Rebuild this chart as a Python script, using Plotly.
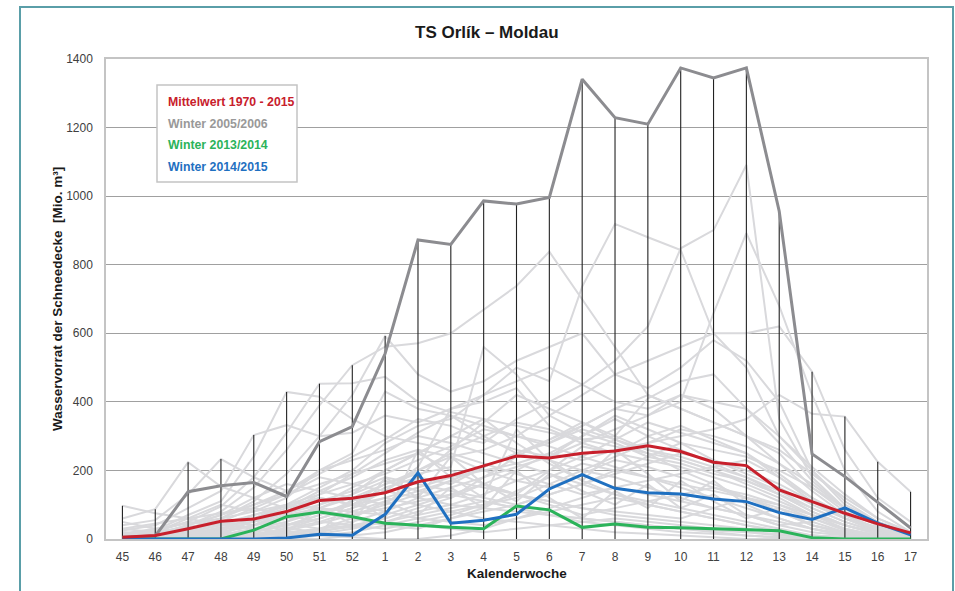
import plotly.graph_objects as go

weeks = ['45', '46', '47', '48', '49', '50', '51', '52', '1', '2', '3', '4', '5',
         '6', '7', '8', '9', '10', '11', '12', '13', '14', '15', '16', '17']

mean_1970_2015 = [5, 10, 30, 52, 58, 80, 112, 119, 135, 167, 185, 214, 242, 236, 250,
                  257, 272, 255, 224, 214, 143, 109, 75, 44, 18]
winter_2005_2006 = [5, 9, 138, 155, 165, 124, 284, 328, 541, 872, 859, 986, 977, 996,
                    1341, 1229, 1210, 1374, 1345, 1374, 956, 248, 182, 108, 32]
winter_2013_2014 = [0, 0, 0, 0, 26, 65, 79, 65, 46, 39, 34, 30, 96, 85, 34, 44, 34, 33,
                    30, 25, 24, 4, 0, 0, 0]
winter_2014_2015 = [0, 0, 0, 0, 0, 3, 14, 11, 72, 193, 46, 55, 72, 146, 188, 148, 135,
                    131, 117, 109, 77, 57, 91, 46, 12]

# highest value of any winter per week (top of the black vertical lines)
week_max = [97, 87, 224, 233, 303, 429, 453, 507, 592, 872, 859, 986, 977, 996, 1341,
            1229, 1210, 1374, 1345, 1374, 956, 488, 357, 225, 138]

# other winters 1970 - 2015 (light grey)
w01 = [97, 75, 60, 40, 50, 80, 120, 100, 150, 180, 160, 210, 250, 230, 200, 180, 150, 120, 90, 70, 40, 20, 10, 5, 0]
w02 = [60, 87, 224, 153, 120, 90, 140, 180, 230, 260, 240, 200, 170, 150, 190, 230, 210, 180, 150, 120, 80, 40, 20, 10, 0]
w03 = [40, 55, 130, 233, 180, 140, 190, 240, 290, 350, 330, 290, 260, 240, 300, 360, 320, 280, 230, 190, 150, 100, 60, 35, 15]
w04 = [25, 40, 90, 140, 303, 332, 300, 310, 360, 340, 380, 420, 460, 500, 450, 400, 380, 420, 380, 300, 220, 160, 90, 40, 20]
w05 = [15, 25, 70, 110, 240, 429, 415, 350, 300, 280, 260, 300, 340, 320, 280, 250, 300, 330, 290, 250, 180, 110, 60, 25, 8]
w06 = [10, 20, 50, 95, 180, 310, 453, 454, 473, 400, 370, 350, 330, 310, 290, 270, 250, 230, 200, 160, 120, 70, 40, 20, 5]
w07 = [0, 10, 40, 80, 150, 260, 390, 507, 561, 571, 600, 668, 738, 838, 700, 560, 420, 380, 340, 300, 250, 150, 80, 40, 12]
w08 = [0, 5, 30, 60, 110, 190, 300, 420, 592, 480, 430, 460, 520, 560, 600, 480, 440, 500, 580, 520, 400, 200, 100, 50, 15]
w09 = [0, 0, 10, 30, 60, 100, 150, 200, 280, 330, 350, 420, 500, 460, 736, 919, 880, 843, 600, 500, 300, 200, 110, 50, 20]
w10 = [0, 0, 5, 20, 40, 70, 90, 130, 200, 250, 300, 280, 350, 400, 450, 520, 620, 848, 901, 1091, 350, 180, 90, 40, 10]
w11 = [5, 10, 20, 40, 70, 100, 130, 160, 190, 230, 270, 320, 300, 280, 330, 380, 360, 400, 659, 892, 680, 420, 200, 80, 20]
w12 = [0, 0, 0, 10, 30, 60, 90, 120, 160, 200, 240, 260, 300, 360, 420, 480, 520, 560, 600, 600, 620, 488, 260, 120, 50]
w13 = [0, 0, 10, 20, 40, 60, 80, 100, 120, 150, 180, 200, 220, 250, 230, 260, 280, 300, 320, 350, 420, 365, 357, 225, 138]
w14 = [30, 20, 60, 100, 80, 120, 200, 250, 430, 380, 360, 300, 250, 280, 320, 290, 260, 240, 210, 180, 140, 90, 50, 20, 5]
w15 = [0, 0, 0, 0, 10, 30, 60, 90, 140, 210, 380, 400, 440, 330, 290, 300, 410, 460, 480, 380, 280, 170, 90, 40, 10]
w16 = [50, 30, 20, 15, 25, 40, 70, 110, 160, 190, 210, 560, 480, 360, 310, 280, 240, 220, 190, 170, 130, 80, 40, 15, 0]
w17 = [10, 5, 0, 0, 0, 10, 30, 50, 80, 120, 150, 180, 210, 240, 280, 320, 360, 420, 400, 380, 300, 210, 130, 60, 20]
w18 = [0, 0, 20, 50, 90, 130, 180, 160, 140, 120, 100, 90, 80, 70, 60, 50, 40, 30, 20, 10, 5, 0, 0, 0, 0]
w19 = [20, 15, 40, 70, 120, 160, 140, 120, 100, 180, 260, 340, 420, 380, 340, 290, 250, 200, 160, 120, 80, 40, 20, 10, 0]
w20 = [0, 0, 0, 5, 15, 30, 50, 80, 110, 140, 170, 150, 130, 200, 270, 250, 230, 210, 180, 150, 110, 70, 30, 10, 0]
w21 = [5, 10, 30, 60, 100, 140, 200, 230, 260, 300, 280, 250, 220, 190, 160, 130, 110, 90, 70, 50, 30, 10, 0, 0, 0]
w22 = [0, 0, 0, 0, 0, 0, 10, 20, 40, 60, 80, 100, 120, 160, 200, 240, 280, 320, 300, 270, 220, 140, 70, 30, 5]
w23 = [15, 25, 50, 40, 30, 50, 80, 60, 40, 30, 60, 90, 140, 180, 220, 200, 180, 160, 140, 120, 90, 60, 30, 10, 0]
w24 = [0, 5, 15, 30, 60, 90, 110, 140, 180, 160, 140, 120, 100, 130, 160, 190, 220, 250, 230, 200, 160, 110, 60, 25, 10]
w25 = [0, 0, 0, 0, 0, 5, 15, 30, 50, 80, 100, 130, 170, 200, 240, 290, 340, 310, 280, 250, 190, 120, 60, 20, 5]
w26 = [5, 10, 25, 45, 70, 95, 120, 100, 80, 60, 50, 40, 60, 80, 100, 120, 100, 80, 60, 40, 25, 10, 5, 0, 0]
w27 = [0, 0, 5, 10, 20, 40, 60, 90, 120, 100, 80, 60, 50, 40, 30, 20, 15, 10, 5, 0, 0, 0, 0, 0, 0]
w28 = [30, 45, 60, 75, 90, 70, 50, 40, 30, 50, 70, 100, 130, 110, 90, 80, 70, 60, 90, 120, 100, 70, 40, 15, 0]
w29 = [0, 0, 0, 10, 20, 40, 70, 100, 140, 200, 250, 220, 190, 160, 130, 150, 170, 190, 210, 230, 180, 120, 70, 30, 10]
w30 = [10, 20, 35, 50, 30, 20, 10, 5, 0, 0, 10, 30, 60, 90, 120, 150, 130, 110, 90, 70, 50, 30, 15, 5, 0]
w31 = [0, 0, 0, 0, 5, 10, 20, 40, 60, 90, 120, 160, 200, 250, 300, 350, 300, 260, 220, 180, 130, 80, 40, 15, 0]
w32 = [0, 10, 30, 50, 40, 60, 80, 70, 90, 110, 130, 110, 90, 70, 60, 50, 40, 30, 25, 20, 15, 10, 5, 0, 0]
w33 = [20, 10, 5, 10, 30, 50, 100, 150, 200, 250, 300, 350, 280, 220, 170, 130, 100, 80, 60, 40, 20, 10, 5, 0, 0]
w34 = [0, 0, 10, 25, 50, 75, 100, 130, 170, 140, 120, 180, 240, 290, 340, 300, 260, 230, 200, 170, 130, 90, 50, 20, 5]
w35 = [0, 0, 0, 0, 0, 0, 0, 10, 20, 40, 60, 80, 100, 130, 160, 200, 240, 280, 260, 240, 200, 150, 90, 40, 10]
w36 = [5, 15, 40, 70, 100, 130, 160, 190, 220, 250, 200, 160, 130, 110, 90, 70, 60, 50, 40, 30, 20, 10, 5, 0, 0]
w37 = [0, 0, 0, 0, 10, 25, 45, 70, 100, 130, 170, 210, 250, 290, 330, 380, 420, 380, 340, 300, 260, 190, 120, 60, 20]
w38 = [10, 20, 30, 20, 10, 20, 30, 40, 50, 40, 30, 20, 30, 40, 50, 60, 50, 40, 30, 20, 10, 5, 0, 0, 0]
w39 = [0, 0, 0, 5, 10, 15, 25, 35, 50, 70, 90, 110, 90, 70, 50, 40, 30, 20, 15, 10, 5, 0, 0, 0, 0]
w40 = [0, 5, 10, 20, 40, 80, 130, 190, 250, 310, 360, 330, 300, 270, 240, 210, 180, 150, 120, 90, 60, 30, 10, 0, 0]
w41 = [15, 30, 45, 60, 80, 100, 90, 80, 70, 100, 130, 160, 130, 100, 70, 90, 110, 130, 150, 130, 100, 60, 25, 10, 0]
w42 = [0, 0, 15, 35, 20, 45, 30, 60, 110, 70, 150, 90, 200, 120, 60, 140, 90, 170, 110, 60, 90, 40, 15, 5, 0]
w43 = [5, 0, 25, 10, 55, 20, 90, 45, 180, 120, 240, 160, 110, 190, 140, 100, 160, 90, 130, 70, 40, 50, 20, 5, 0]
w44 = [0, 0, 0, 20, 5, 35, 15, 120, 60, 260, 180, 120, 320, 230, 170, 260, 190, 110, 170, 100, 60, 30, 10, 0, 0]

other_winters = [w01, w02, w03, w04, w05, w06, w07, w08, w09, w10, w11, w12, w13, w14,
                 w15, w16, w17, w18, w19, w20, w21, w22, w23, w24, w25, w26, w27, w28,
                 w29, w30, w31, w32, w33, w34, w35, w36, w37, w38, w39, w40, w41, w42,
                 w43, w44]

legend_labels = ['Mittelwert 1970 - 2015', 'Winter 2005/2006', 'Winter 2013/2014', 'Winter 2014/2015']

RED = '#c8202c'
GREY = '#8c8c90'
GREEN = '#2bb35a'
BLUE = '#1f70c1'
LIGHT = '#d9d9dc'

fig = go.Figure()

for w in other_winters:
    fig.add_trace(go.Scatter(x=weeks, y=w, mode='lines',
                             line=dict(color=LIGHT, width=2), hoverinfo='skip'))

vx, vy = [], []
for wk, m in zip(weeks, week_max):
    vx += [wk, wk, None]
    vy += [0, m, None]
fig.add_trace(go.Scatter(x=vx, y=vy, mode='lines', connectgaps=False,
                         line=dict(color='#222222', width=1.1), hoverinfo='skip'))

fig.add_trace(go.Scatter(x=weeks, y=winter_2005_2006, mode='lines', line=dict(color=GREY, width=3)))
fig.add_trace(go.Scatter(x=weeks, y=winter_2013_2014, mode='lines', line=dict(color=GREEN, width=3)))
fig.add_trace(go.Scatter(x=weeks, y=winter_2014_2015, mode='lines', line=dict(color=BLUE, width=3)))
fig.add_trace(go.Scatter(x=weeks, y=mean_1970_2015, mode='lines', line=dict(color=RED, width=3)))

W, H = 955, 591
L, R, T, B = 106, 927, 59, 539
pw, ph = R - L, B - T


def px(x):
    return (x - L) / pw


def py(y):
    return (B - y) / ph


shapes = [
    # outer teal frame
    dict(type='rect', xref='paper', yref='paper', x0=px(20), x1=px(953), y0=py(640), y1=py(7),
         line=dict(color='#5a9ea8', width=2), fillcolor='rgba(0,0,0,0)', layer='below'),
    # legend box
    dict(type='rect', xref='paper', yref='paper', x0=px(157), x1=px(297), y0=py(182), y1=py(85),
         line=dict(color='#c4c4c4', width=1.5), fillcolor='white', layer='above'),
]

annotations = [
    dict(text='<b>TS Orlík – Moldau</b>', xref='paper', yref='paper', x=px(486.5), y=py(32),
         showarrow=False, font=dict(family='Arial, Liberation Sans', size=17, color='#1a1a1a'),
         xanchor='center', yanchor='middle'),
    dict(text='<b>Wasservorrat der Schneedecke  [Mio. m³]</b>', xref='paper', yref='paper',
         x=px(57), y=py(299), textangle=-90, showarrow=False,
         font=dict(family='Arial, Liberation Sans', size=13.5, color='#1a1a1a'),
         xanchor='center', yanchor='middle'),
    dict(text='<b>Kalenderwoche</b>', xref='paper', yref='paper', x=px(516.5), y=py(573),
         showarrow=False, font=dict(family='Arial, Liberation Sans', size=13.5, color='#1a1a1a'),
         xanchor='center', yanchor='middle'),
]
legend_colors = [RED, '#999999', GREEN, BLUE]
legend_y = [102.5, 123.8, 145.3, 166.7]
for lab, col, yy in zip(legend_labels, legend_colors, legend_y):
    annotations.append(dict(text='<b>' + lab + '</b>', xref='paper', yref='paper', x=px(166),
                            y=py(yy), showarrow=False, xanchor='left', yanchor='middle',
                            font=dict(family='Arial, Liberation Sans', size=12.3, color=col)))

fig.update_layout(
    width=W, height=H,
    margin=dict(l=L, r=W - R, t=T, b=H - B, pad=0),
    paper_bgcolor='white', plot_bgcolor='white',
    showlegend=False,
    shapes=shapes, annotations=annotations,
    font=dict(family='Arial, Liberation Sans', size=12, color='#404040'),
    xaxis=dict(type='category', categoryorder='array', categoryarray=weeks,
               range=[-0.5, 24.5], showgrid=False, showline=True, linecolor='#c4c4c4',
               linewidth=1.5, mirror=True, ticks='', ticklabelstandoff=6, zeroline=False,
               tickfont=dict(size=12, color='#404040')),
    yaxis=dict(range=[0, 1400], dtick=200, showgrid=True, gridcolor='#a0a0a0', gridwidth=1,
               showline=True, linecolor='#c4c4c4', linewidth=1.5, mirror=True, ticks='',
               ticklabelstandoff=9, zeroline=False, tickfont=dict(size=12, color='#404040')),
)

fig.write_html('out.html', config={'displayModeBar': False},
               post_script="document.body.style.margin='0';document.body.style.overflow='hidden';")
